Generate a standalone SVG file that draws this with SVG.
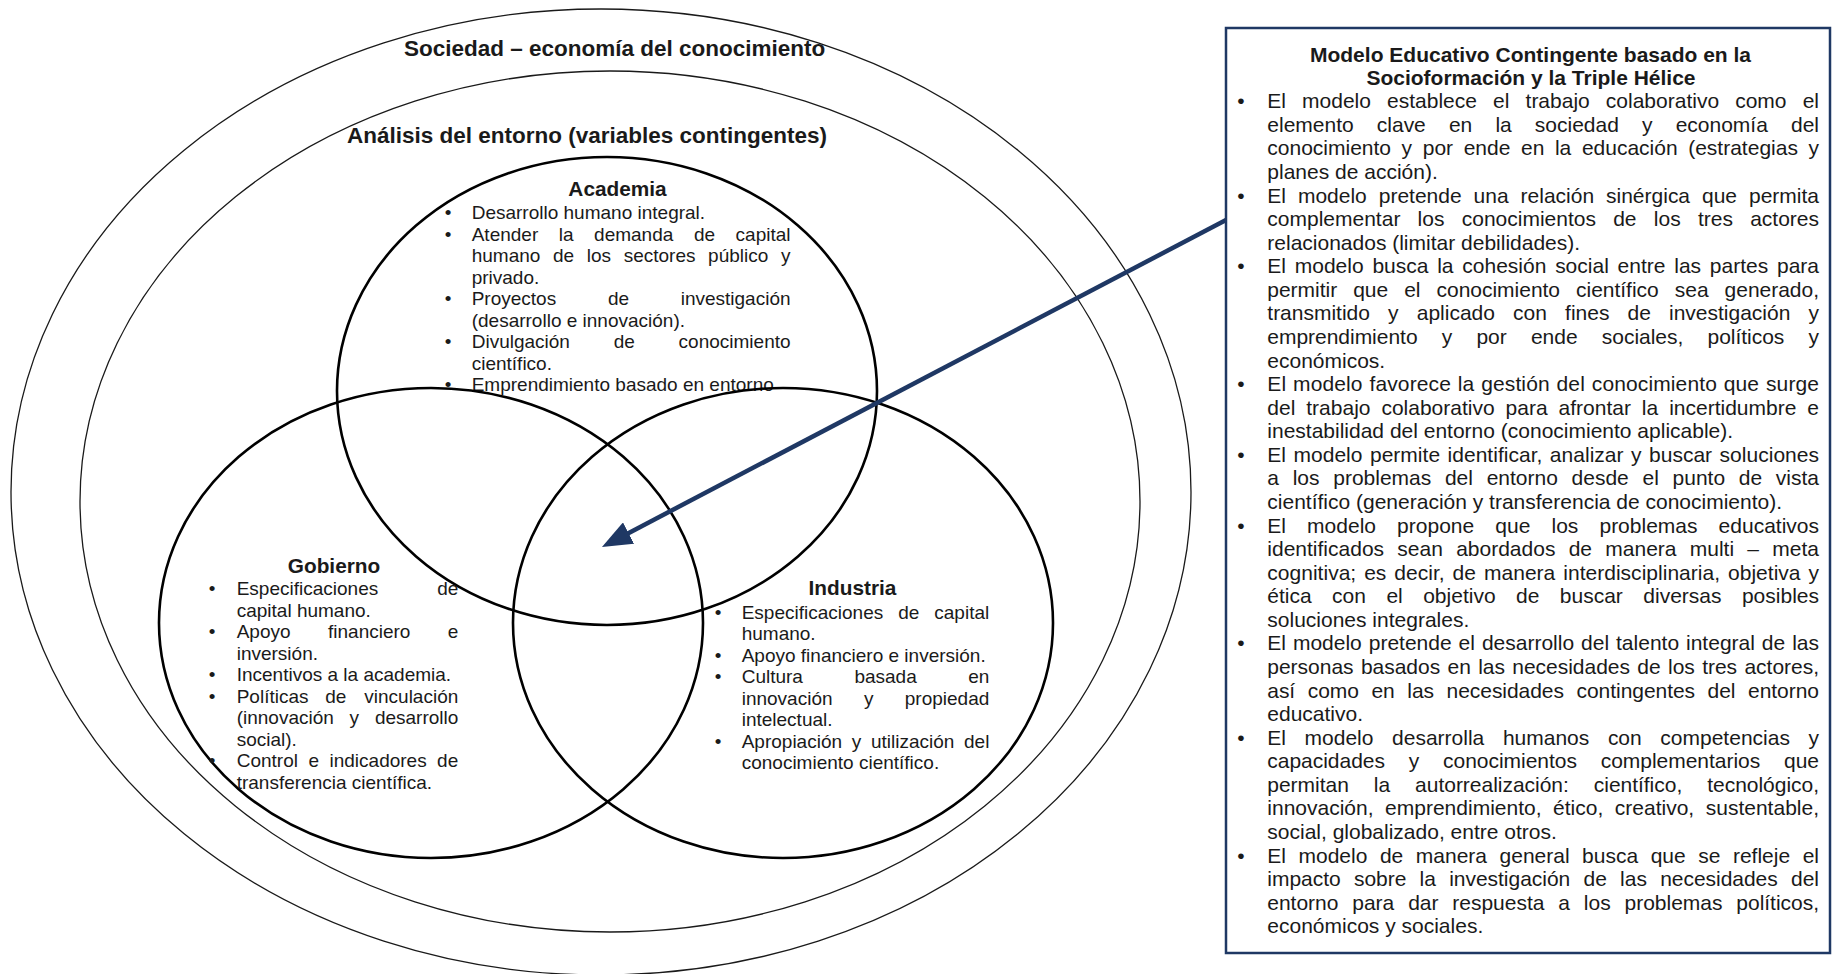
<svg xmlns="http://www.w3.org/2000/svg" width="1832" height="974" viewBox="0 0 1832 974">
<defs>
<style>
.ring{fill:none;stroke:#1a1a1a;stroke-width:1.3}
.venn{fill:none;stroke:#000;stroke-width:2.6}
text{font-family:"Liberation Sans",Arial,sans-serif;fill:#1a1a1a}
.h1{font-size:22.5px;font-weight:bold}
.h2{font-size:20.8px;font-weight:bold;text-anchor:middle}
.b{font-size:19px}
.bt{font-size:21px;font-weight:bold;text-anchor:middle}
.bx{font-size:21px}
.bul{text-anchor:middle}
.conn{fill:none;stroke:#1f3864;stroke-width:4.5}
</style>
<marker id="ah" viewBox="0 0 30 24" refX="4" refY="12" markerWidth="30" markerHeight="24" markerUnits="userSpaceOnUse" orient="auto"><path d="M0,0 L30,12 L0,24 z" fill="#1f3864"/></marker>
</defs>
<rect width="1832" height="974" fill="#fff"/>

<g id="sociedad">
<ellipse class="ring" cx="601" cy="492" rx="590" ry="483"/>
<text class="h1" x="404" y="56">Sociedad – economía del conocimiento</text>
</g>

<g id="entorno">
<ellipse class="ring" cx="610" cy="501.5" rx="530" ry="430.5"/>
<text class="h1" x="347" y="143">Análisis del entorno (variables contingentes)</text>
</g>

<g id="academia">
<ellipse class="venn" cx="607" cy="391" rx="270" ry="234"/>
<text class="h2" x="617.5" y="196">Academia</text>
<g class="b">
<text class="b bul" x="448" y="219">•</text>
<text class="b" x="471.7" y="219">Desarrollo humano integral.</text>
<text class="b bul" x="448" y="240.5">•</text>
<text class="b" y="240.5"><tspan x="471.7">Atender</tspan><tspan x="558.8">la</tspan><tspan x="594.1">demanda</tspan><tspan x="693.9">de</tspan><tspan x="735.6">capital</tspan></text>
<text class="b" y="262"><tspan x="471.7">humano</tspan><tspan x="553">de</tspan><tspan x="586.7">los</tspan><tspan x="623.7">sectores</tspan><tspan x="708.1">público</tspan><tspan x="781">y</tspan></text>
<text class="b" x="471.7" y="283.5">privado.</text>
<text class="b bul" x="448" y="305">•</text>
<text class="b" y="305"><tspan x="471.7">Proyectos</tspan><tspan x="607.9">de</tspan><tspan x="680.7">investigación</tspan></text>
<text class="b" x="471.7" y="326.5">(desarrollo e innovación).</text>
<text class="b bul" x="448" y="348">•</text>
<text class="b" y="348"><tspan x="471.7">Divulgación</tspan><tspan x="613.7">de</tspan><tspan x="678.6">conocimiento</tspan></text>
<text class="b" x="471.7" y="369.5">científico.</text>
<text class="b bul" x="448" y="391">•</text>
<text class="b" x="471.7" y="391">Emprendimiento basado en entorno</text>
</g>
</g>

<g id="gobierno">
<ellipse class="venn" cx="431" cy="623" rx="272" ry="235"/>
<text class="h2" x="334" y="573">Gobierno</text>
<text class="b bul" x="212" y="595">•</text>
<text class="b" y="595"><tspan x="236.7">Especificaciones</tspan><tspan x="437.2">de</tspan></text>
<text class="b" x="236.7" y="616.5">capital humano.</text>
<text class="b bul" x="212" y="638">•</text>
<text class="b" y="638"><tspan x="236.7">Apoyo</tspan><tspan x="328">financiero</tspan><tspan x="447.8">e</tspan></text>
<text class="b" x="236.7" y="659.5">inversión.</text>
<text class="b bul" x="212" y="681">•</text>
<text class="b" x="236.7" y="681">Incentivos a la academia.</text>
<text class="b bul" x="212" y="702.5">•</text>
<text class="b" y="702.5"><tspan x="236.7">Políticas</tspan><tspan x="325.3">de</tspan><tspan x="364.3">vinculación</tspan></text>
<text class="b" y="724"><tspan x="236.7">(innovación</tspan><tspan x="349.6">y</tspan><tspan x="374.9">desarrollo</tspan></text>
<text class="b" x="236.7" y="745.5">social).</text>
<text class="b bul" x="212" y="767">•</text>
<text class="b" y="767"><tspan x="236.7">Control</tspan><tspan x="308.4">e</tspan><tspan x="329.5">indicadores</tspan><tspan x="437.1">de</tspan></text>
<text class="b" x="236.7" y="788.5">transferencia científica.</text>
</g>

<g id="industria">
<ellipse class="venn" cx="783" cy="623" rx="270" ry="235"/>
<text class="h2" x="852.5" y="595">Industria</text>
<text class="b bul" x="718" y="618.5">•</text>
<text class="b" y="618.5"><tspan x="741.7">Especificaciones</tspan><tspan x="898.2">de</tspan><tspan x="934.3">capital</tspan></text>
<text class="b" x="741.7" y="640">humano.</text>
<text class="b bul" x="718" y="661.5">•</text>
<text class="b" x="741.7" y="661.5">Apoyo financiero e inversión.</text>
<text class="b bul" x="718" y="683">•</text>
<text class="b" y="683"><tspan x="741.7">Cultura</tspan><tspan x="854.4">basada</tspan><tspan x="968.2">en</tspan></text>
<text class="b" y="704.5"><tspan x="741.7">innovación</tspan><tspan x="863.9">y</tspan><tspan x="904.8">propiedad</tspan></text>
<text class="b" x="741.7" y="726">intelectual.</text>
<text class="b bul" x="718" y="747.5">•</text>
<text class="b" y="747.5"><tspan x="741.7">Apropiación</tspan><tspan x="851.7">y</tspan><tspan x="870.9">utilización</tspan><tspan x="964">del</tspan></text>
<text class="b" x="741.7" y="769">conocimiento científico.</text>
</g>

<g id="modelo">
<rect x="1226" y="28" width="604" height="925" fill="#fff" stroke="#1f3864" stroke-width="2.5"/>
<text class="bt" x="1530.5" y="61.7">Modelo Educativo Contingente basado en la</text>
<text class="bt" x="1531" y="85">Socioformación y la Triple Hélice</text>
<g class="bx">
<text class="bx bul" x="1241" y="108.3">•</text>
<text class="bx bul" x="1241" y="202.6">•</text>
<text class="bx bul" x="1241" y="273.3">•</text>
<text class="bx bul" x="1241" y="391.1">•</text>
<text class="bx bul" x="1241" y="461.9">•</text>
<text class="bx bul" x="1241" y="532.6">•</text>
<text class="bx bul" x="1241" y="650.4">•</text>
<text class="bx bul" x="1241" y="744.7">•</text>
<text class="bx bul" x="1241" y="862.5">•</text>
<text class="bx" x="1267.3" y="108.3" word-spacing="10.3" textLength="551.7" lengthAdjust="spacing">El modelo establece el trabajo colaborativo como el</text>
<text class="bx" x="1267.3" y="131.9" word-spacing="17.3" textLength="551.7" lengthAdjust="spacing">elemento clave en la sociedad y economía del</text>
<text class="bx" x="1267.3" y="155.4" word-spacing="4.76" textLength="551.7" lengthAdjust="spacing">conocimiento y por ende en la educación (estrategias y</text>
<text class="bx" x="1267.3" y="179">planes de acción).</text>
<text class="bx" x="1267.3" y="202.6" word-spacing="6.1" textLength="551.7" lengthAdjust="spacing">El modelo pretende una relación sinérgica que permita</text>
<text class="bx" x="1267.3" y="226.2" word-spacing="11.4" textLength="551.7" lengthAdjust="spacing">complementar los conocimientos de los tres actores</text>
<text class="bx" x="1267.3" y="249.7">relacionados (limitar debilidades).</text>
<text class="bx" x="1267.3" y="273.3" word-spacing="2.94" textLength="551.7" lengthAdjust="spacing">El modelo busca la cohesión social entre las partes para</text>
<text class="bx" x="1267.3" y="296.9" word-spacing="10.25" textLength="551.7" lengthAdjust="spacing">permitir que el conocimiento científico sea generado,</text>
<text class="bx" x="1267.3" y="320.4" word-spacing="12.3" textLength="551.7" lengthAdjust="spacing">transmitido y aplicado con fines de investigación y</text>
<text class="bx" x="1267.3" y="344" word-spacing="18.4" textLength="551.7" lengthAdjust="spacing">emprendimiento y por ende sociales, políticos y</text>
<text class="bx" x="1267.3" y="367.6">económicos.</text>
<text class="bx" x="1267.3" y="391.1" word-spacing="0.87" textLength="551.7" lengthAdjust="spacing">El modelo favorece la gestión del conocimiento que surge</text>
<text class="bx" x="1267.3" y="414.7" word-spacing="5.1" textLength="551.7" lengthAdjust="spacing">del trabajo colaborativo para afrontar la incertidumbre e</text>
<text class="bx" x="1267.3" y="438.3">inestabilidad del entorno (conocimiento aplicable).</text>
<text class="bx" x="1267.3" y="461.9" word-spacing="1.6" textLength="551.7" lengthAdjust="spacing">El modelo permite identificar, analizar y buscar soluciones</text>
<text class="bx" x="1267.3" y="485.4" word-spacing="7.9" textLength="551.7" lengthAdjust="spacing">a los problemas del entorno desde el punto de vista</text>
<text class="bx" x="1267.3" y="509">científico (generación y transferencia de conocimiento).</text>
<text class="bx" x="1267.3" y="532.6" word-spacing="15.3" textLength="551.7" lengthAdjust="spacing">El modelo propone que los problemas educativos</text>
<text class="bx" x="1267.3" y="556.1" word-spacing="7.4" textLength="551.7" lengthAdjust="spacing">identificados sean abordados de manera multi – meta</text>
<text class="bx" x="1267.3" y="579.7" word-spacing="2.1" textLength="551.7" lengthAdjust="spacing">cognitiva; es decir, de manera interdisciplinaria, objetiva y</text>
<text class="bx" x="1267.3" y="603.3" word-spacing="14.6" textLength="551.7" lengthAdjust="spacing">ética con el objetivo de buscar diversas posibles</text>
<text class="bx" x="1267.3" y="626.8">soluciones integrales.</text>
<text class="bx" x="1267.3" y="650.4" word-spacing="1.1" textLength="551.7" lengthAdjust="spacing">El modelo pretende el desarrollo del talento integral de las</text>
<text class="bx" x="1267.3" y="674" word-spacing="1.55" textLength="551.7" lengthAdjust="spacing">personas basados en las necesidades de los tres actores,</text>
<text class="bx" x="1267.3" y="697.6" word-spacing="6.8" textLength="551.7" lengthAdjust="spacing">así como en las necesidades contingentes del entorno</text>
<text class="bx" x="1267.3" y="721.1">educativo.</text>
<text class="bx" x="1267.3" y="744.7" word-spacing="12.8" textLength="551.7" lengthAdjust="spacing">El modelo desarrolla humanos con competencias y</text>
<text class="bx" x="1267.3" y="768.3" word-spacing="18" textLength="551.7" lengthAdjust="spacing">capacidades y conocimientos complementarios que</text>
<text class="bx" x="1267.3" y="791.8" word-spacing="19.2" textLength="551.7" lengthAdjust="spacing">permitan la autorrealización: científico, tecnológico,</text>
<text class="bx" x="1267.3" y="815.4" word-spacing="5.75" textLength="551.7" lengthAdjust="spacing">innovación, emprendimiento, ético, creativo, sustentable,</text>
<text class="bx" x="1267.3" y="839">social, globalizado, entre otros.</text>
<text class="bx" x="1267.3" y="862.5" word-spacing="6.7" textLength="551.7" lengthAdjust="spacing">El modelo de manera general busca que se refleje el</text>
<text class="bx" x="1267.3" y="886.1" word-spacing="7.5" textLength="551.7" lengthAdjust="spacing">impacto sobre la investigación de las necesidades del</text>
<text class="bx" x="1267.3" y="909.7" word-spacing="8.1" textLength="551.7" lengthAdjust="spacing">entorno para dar respuesta a los problemas políticos,</text>
<text class="bx" x="1267.3" y="933.3">económicos y sociales.</text>
</g>
</g>

<g id="connectors">
<line class="conn" x1="1226" y1="220" x2="625" y2="534.9" marker-end="url(#ah)"/>
</g>
</svg>
